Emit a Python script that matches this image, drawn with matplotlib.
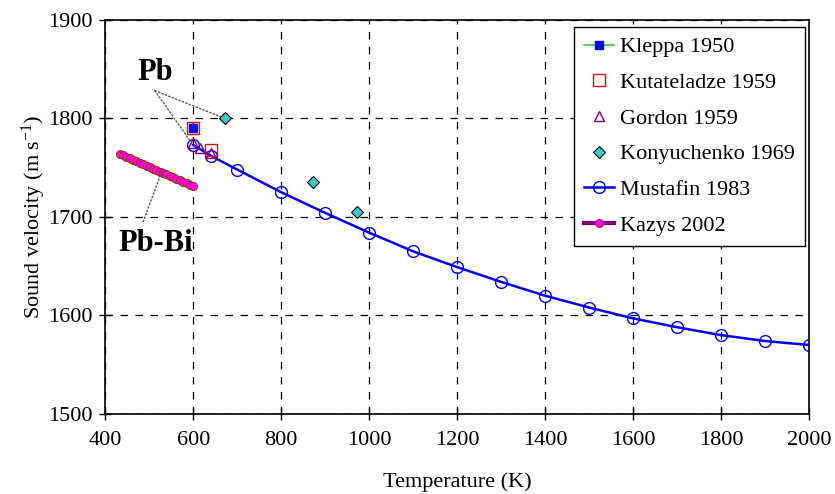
import matplotlib
matplotlib.use("Agg")
import matplotlib.pyplot as plt

plt.rcParams['font.family'] = ['Liberation Serif', 'DejaVu Serif']
plt.rcParams['mathtext.fontset'] = 'custom'
plt.rcParams['mathtext.rm'] = 'Liberation Serif'
plt.rcParams['mathtext.it'] = 'Liberation Serif:italic'

# Sound velocity in liquid Pb and Pb-Bi (m/s) vs temperature (K)
kleppa_T = [600]
kleppa_u = [1790]

kutateladze_T = [600, 641]
kutateladze_u = [1790, 1768]

gordon_T = [600, 615, 640]
gordon_u = [1775, 1770, 1765]

konyuchenko_T = [673, 873, 973]
konyuchenko_u = [1800, 1735, 1705]

mustafin_T = [600, 640, 700, 800, 900, 1000, 1100, 1200, 1300, 1400,
              1500, 1600, 1700, 1800, 1900, 2000]
mustafin_u = [1773, 1762, 1748, 1725, 1704, 1684, 1665, 1649, 1634, 1620,
              1608, 1597, 1588, 1580, 1574, 1570]

kazys_T = [433, 441, 448, 456, 463, 471, 478, 486, 494, 501, 509, 516,
           524, 532, 539, 547, 554, 562, 570, 577, 585, 592, 600]
kazys_u = [1764, 1762.5, 1761, 1759.5, 1758, 1756.5, 1755, 1753.5, 1752,
           1750.5, 1749, 1747.5, 1746, 1744.5, 1743, 1741.5, 1740, 1738.5,
           1737, 1735.5, 1734, 1732.5, 1731]

x_ticks = [400, 600, 800, 1000, 1200, 1400, 1600, 1800, 2000]
y_ticks = [1500, 1600, 1700, 1800, 1900]

fig = plt.figure(figsize=(8.35, 4.94), dpi=100)
ax = fig.add_axes([0.126, 0.162, 0.843, 0.798])

ax.set_xlim(400, 2000)
ax.set_ylim(1500, 1900)
ax.set_xticks(x_ticks)
ax.set_yticks(y_ticks)
ax.grid(True, color='black', linestyle=(0, (6, 6)), linewidth=0.9)
ax.set_axisbelow(True)
ax.tick_params(direction='inout', length=8, width=1, labelsize=16, pad=5)
ax.tick_params(axis='x', pad=8)
for sp in ax.spines.values():
    sp.set_linewidth(1.2)

ax.plot(mustafin_T, mustafin_u, color='#0000FF', linewidth=1.8, marker='o',
        markersize=8.5, markerfacecolor='none', markeredgecolor='#0000FF',
        markeredgewidth=1.0, label='Mustafin 1983', zorder=3)
ax.plot(kazys_T, kazys_u, color='#800080', linewidth=3, marker='o',
        markersize=5.8, markerfacecolor='#FF00FF', markeredgecolor='#993300',
        markeredgewidth=0.7, label='Kazys 2002', zorder=3)
ax.plot(gordon_T, gordon_u, linestyle='none', marker='^', markersize=7.5,
        markerfacecolor='none', markeredgecolor='#800080',
        markeredgewidth=1.0, label='Gordon 1959', zorder=4)
ax.plot(kutateladze_T, kutateladze_u, linestyle='none', marker='s',
        markersize=8.5, markerfacecolor='none', markeredgecolor='#FF0000',
        markeredgewidth=1.0, label='Kutateladze 1959', zorder=4)
ax.plot(kleppa_T, kleppa_u, color='#33CC33', linewidth=1.2, marker='s',
        markersize=5.5, markerfacecolor='#0000FF', markeredgecolor='#0000FF',
        label='Kleppa 1950', zorder=5)
ax.plot(konyuchenko_T, konyuchenko_u, linestyle='none', marker='D',
        markersize=6, markerfacecolor='#33CCCC', markeredgecolor='black',
        markeredgewidth=0.8, label='Konyuchenko 1969', zorder=4)

# Pb and Pb-Bi callouts with dotted leaders
leader = dict(arrowstyle='-', linestyle=':', color='#555555', linewidth=1.0,
              shrinkA=0, shrinkB=0)
ax.text(513, 1846, 'Pb', fontsize=22, fontweight='bold', ha='center', va='center')
ax.annotate('', xy=(593, 1777), xytext=(513, 1828), arrowprops=leader)
ax.annotate('', xy=(666, 1801), xytext=(513, 1828), arrowprops=leader)
ax.text(514, 1673, 'Pb-Bi', fontsize=22, fontweight='bold', ha='center', va='center')
ax.annotate('', xy=(532, 1750), xytext=(486, 1695), arrowprops=leader)

handles, labels = ax.get_legend_handles_labels()
order = ['Kleppa 1950', 'Kutateladze 1959', 'Gordon 1959', 'Konyuchenko 1969',
         'Mustafin 1983', 'Kazys 2002']
hmap = dict(zip(labels, handles))
leg = ax.legend([hmap[k] for k in order], order, loc='upper right',
                bbox_to_anchor=(0.994, 0.982), fontsize=16, frameon=True,
                fancybox=False, edgecolor='black', framealpha=1,
                labelspacing=0.68, handlelength=1.35, handletextpad=0.25,
                borderpad=0.45, borderaxespad=0)
leg.get_frame().set_linewidth(1.0)

ax.set_xlabel('Temperature (K)', fontsize=16, labelpad=16)
ax.set_ylabel(r'Sound velocity (m s$^{-1}$)', fontsize=16, labelpad=0)

fig.savefig('out.png', dpi=100)
